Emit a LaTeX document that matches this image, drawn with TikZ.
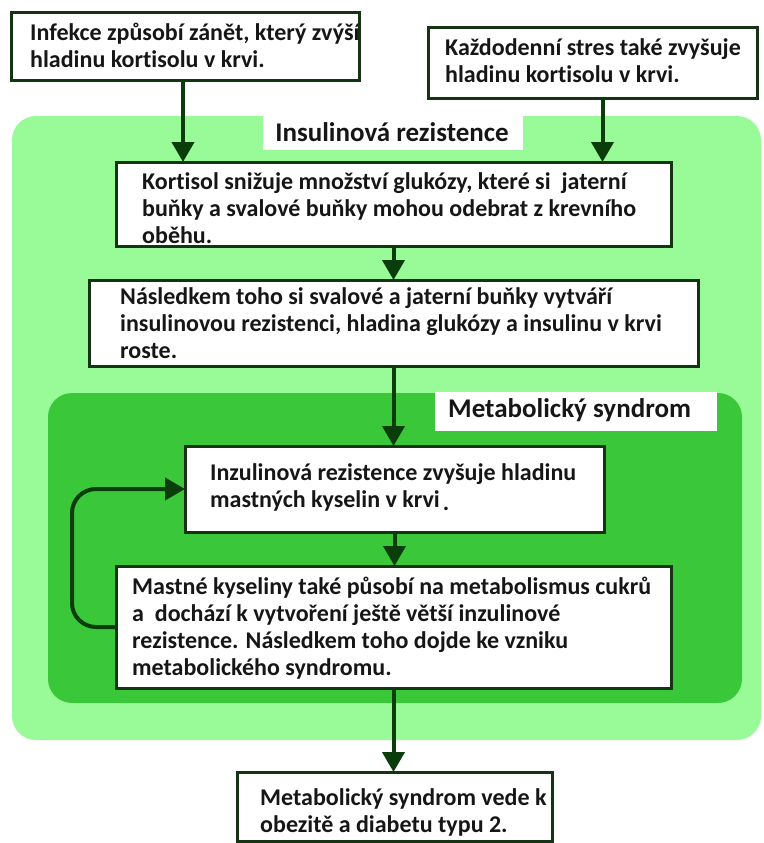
\documentclass[tikz,border=0pt]{standalone}
\usepackage{fontspec}
\setmainfont{Carlito}[Ligatures=NoCommon]
\usetikzlibrary{arrows.meta,calc}
\definecolor{lightg}{HTML}{98FB98}
\definecolor{darkg}{HTML}{3AC83A}
\definecolor{arrc}{HTML}{0B3D0B}
\definecolor{bordc}{HTML}{143414}
\definecolor{txtc}{HTML}{161616}
\newcommand{\Fs}{\rule{0pt}{22pt}}
\tikzset{
  boxfill/.style={fill=white, inner sep=0pt, outer sep=0pt},
  bord/.style={draw=bordc, line width=3pt},
  txt/.style={anchor=north west, inner sep=0pt, align=left, text=txtc,
    font=\bfseries\fontsize{24}{27}\selectfont},
  ttl/.style={anchor=base, inner sep=0pt, text=txtc,
    font=\bfseries\fontsize{27}{30}\selectfont},
  arr/.style={draw=arrc, line width=4pt, -{Triangle[length=20pt,width=22pt]}},
  region/.style={rounded corners=24pt}
}
\begin{document}
\begin{tikzpicture}[x=1pt,y=-1pt]
\useasboundingbox (0,0) rectangle (763,843);
% backgrounds
\fill[lightg, region] (12,116) rectangle (761,740);
\node[boxfill, minimum width=260pt, minimum height=34pt] (t1bg) at (393,133) {};
\node[ttl] (t1) at (392,141) {Insulinová rezistence};
\fill[darkg, region] (48,393) rectangle (742,703);
\node[boxfill, minimum width=282pt, minimum height=39pt] (t2bg) at (576,411.5) {};
\node[ttl, anchor=base west] (t2) at (448,417) {Metabolický syndrom};
% boxes
\node[boxfill, minimum width=348pt, minimum height=67pt] (b1) at (185,46.5) {};
\node[boxfill, minimum width=329pt, minimum height=70pt] (b2) at (592.5,63) {};
\node[boxfill, minimum width=555pt, minimum height=84pt] (b3) at (393.5,204) {};
\node[boxfill, minimum width=609pt, minimum height=86pt] (b4) at (393.5,323) {};
\node[boxfill, minimum width=419pt, minimum height=86pt] (b5) at (394.5,489) {};
\node[boxfill, minimum width=555pt, minimum height=122pt] (b6) at (393.5,627) {};
\node[boxfill, minimum width=315pt, minimum height=69pt] (b7) at (394.5,806.5) {};
% texts
\node[txt] (x1) at (30,18) {\Fs Infekce způsobí zánět, který zvýší\\hladinu kortisolu v krvi.};
\node[txt] (x2) at (445,33) {\Fs Každodenní stres také zvyšuje\\hladinu kortisolu v krvi.};
\node[txt] (x3) at (142,167) {\Fs Kortisol snižuje množství glukózy, které si\ \ jaterní\\buňky a svalové buňky mohou odebrat z krevního\\oběhu.};
\node[txt] (x4) at (120,282) {\Fs Následkem toho si svalové a jaterní buňky vytváří\\insulinovou rezistenci, hladina glukózy a insulinu v krvi\\roste.};
\node[txt] (x5) at (210,458) {\Fs Inzulinová rezistence zvyšuje hladinu\\mastných kyselin v krvi\kern3pt\raisebox{-3pt}{.}};
\node[txt] (x6) at (132,572) {\Fs Mastné kyseliny také působí na metabolismus cukrů\\a\ \ dochází k vytvoření ještě větší inzulinové\\rezistence. Následkem toho dojde ke vzniku\\metabolického syndromu.};
\node[txt] (x7) at (260,783) {\Fs Metabolický syndrom vede k\\obezitě a diabetu typu 2.};
% borders
\foreach \b in {b1,b2,b3,b4,b5,b6,b7}
  \draw[bord] (\b.north west) rectangle (\b.south east);
% connectors
\draw[arr] ([xshift=-2pt]b1.south) -- ([xshift=-2pt]b1.south |- b3.north);
\draw[arr] ([xshift=10pt]b2.south) -- ([xshift=10pt]b2.south |- b3.north);
\draw[arr] (b3.south) -- (b3.south |- b4.north);
\draw[arr] (b4.south) -- (b4.south |- b5.north);
\draw[arr] (b5.south) -- (b5.south |- b6.north);
\draw[arr] (b6.south) -- (b6.south |- b7.north);
\draw[arr, rounded corners=24pt] (b6.west) -- ++(-44,0) |- (b5.west);
\end{tikzpicture}
\end{document}
